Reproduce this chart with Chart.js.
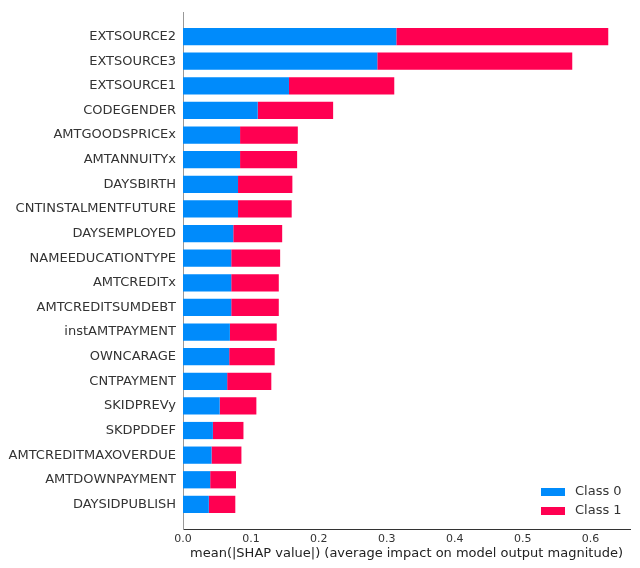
<!DOCTYPE html>
<html>
<head>
<meta charset="utf-8">
<script src="https://cdn.jsdelivr.net/npm/chart.js@4"></script>
<style>
  html, body { margin: 0; padding: 0; background: #fff; }
  #wrap { width: 640px; height: 568px; }
</style>
</head>
<body>
<div id="wrap"><canvas id="shapChart"></canvas></div>
<script>
// feature names, top to bottom
var features = ["EXTSOURCE2", "EXTSOURCE3", "EXTSOURCE1", "CODEGENDER", "AMTGOODSPRICEx",
  "AMTANNUITYx", "DAYSBIRTH", "CNTINSTALMENTFUTURE", "DAYSEMPLOYED", "NAMEEDUCATIONTYPE",
  "AMTCREDITx", "AMTCREDITSUMDEBT", "instAMTPAYMENT", "OWNCARAGE", "CNTPAYMENT",
  "SKIDPREVy", "SKDPDDEF", "AMTCREDITMAXOVERDUE", "AMTDOWNPAYMENT", "DAYSIDPUBLISH"];
// mean |SHAP| per class
var class0 = [0.314, 0.286, 0.156, 0.110, 0.084, 0.084, 0.081, 0.081, 0.074, 0.071,
  0.071, 0.071, 0.069, 0.068, 0.065, 0.054, 0.044, 0.042, 0.040, 0.038];
var class1 = [0.312, 0.287, 0.155, 0.111, 0.085, 0.084, 0.080, 0.079, 0.072, 0.072,
  0.070, 0.070, 0.069, 0.067, 0.065, 0.054, 0.045, 0.044, 0.038, 0.039];
var xTicks = [0, 0.1, 0.2, 0.3, 0.4, 0.5, 0.6];

// blank rows at both ends so the axis keeps one full row of margin
var rows = [""].concat(features, [""]);
function pad(arr) { return [null].concat(arr, [null]); }

// legend drawn inside the plot, lower right (like matplotlib's loc="best")
var innerLegend = {
  id: 'innerLegend',
  afterDraw: function (chart) {
    var c = chart.ctx, area = chart.chartArea;
    c.save();
    c.font = '13px "DejaVu Sans"';
    c.textBaseline = 'middle';
    chart.data.datasets.forEach(function (ds, i) {
      var y = area.bottom - 37 + i * 19;
      c.fillStyle = ds.backgroundColor;
      c.fillRect(area.right - 89, y - 4, 24, 8);
      c.fillStyle = '#333';
      c.fillText(ds.label, area.right - 55, y);
    });
    c.restore();
  }
};

var ctx = document.getElementById("shapChart");
var shapChart = new Chart(ctx, {
  type: 'bar',
  data: {
    labels: rows,
    datasets: [{
      label: 'Class 0',
      data: pad(class0),
      backgroundColor: '#008bfb',
      barPercentage: 0.7,
      categoryPercentage: 1
    }, {
      label: 'Class 1',
      data: pad(class1),
      backgroundColor: '#ff0051',
      barPercentage: 0.7,
      categoryPercentage: 1
    }]
  },
  plugins: [innerLegend],
  options: {
    indexAxis: 'y',
    responsive: true,
    maintainAspectRatio: false,
    animation: false,
    layout: { padding: { top: 12, right: 10, left: 0, bottom: 0 } },
    plugins: {
      tooltip: { enabled: false },
      legend: { display: false }
    },
    scales: {
      x: {
        stacked: true,
        min: 0,
        max: 0.658,
        grid: { display: false, drawTicks: false, tickLength: 0 },
        border: { color: '#333', width: 1 },
        afterBuildTicks: function (scale) {
          scale.ticks = xTicks.map(function (v) { return { value: v }; });
        },
        afterFit: function (scale) {
          scale.height = 39;
          scale.paddingLeft = 0;
          scale.paddingRight = 0;
        },
        ticks: {
          color: '#333',
          padding: 4,
          font: { family: 'DejaVu Sans', size: 11 },
          callback: function (value) { return value.toFixed(1); }
        },
        title: {
          display: true,
          text: 'mean(|SHAP value|) (average impact on model output magnitude)',
          color: '#222',
          font: { family: 'DejaVu Sans', size: 13 },
          padding: { top: 0, bottom: 7 }
        }
      },
      y: {
        stacked: true,
        offset: false,
        grid: { display: false, drawTicks: false, tickLength: 0 },
        border: { color: '#999', width: 1 },
        afterFit: function (scale) {
          scale.width = 183;
          scale.paddingTop = 0;
          scale.paddingBottom = 0;
        },
        ticks: {
          color: '#333',
          padding: 7,
          autoSkip: false,
          font: { family: 'DejaVu Sans', size: 13 }
        }
      }
    }
  }
});
</script>
</body>
</html>
